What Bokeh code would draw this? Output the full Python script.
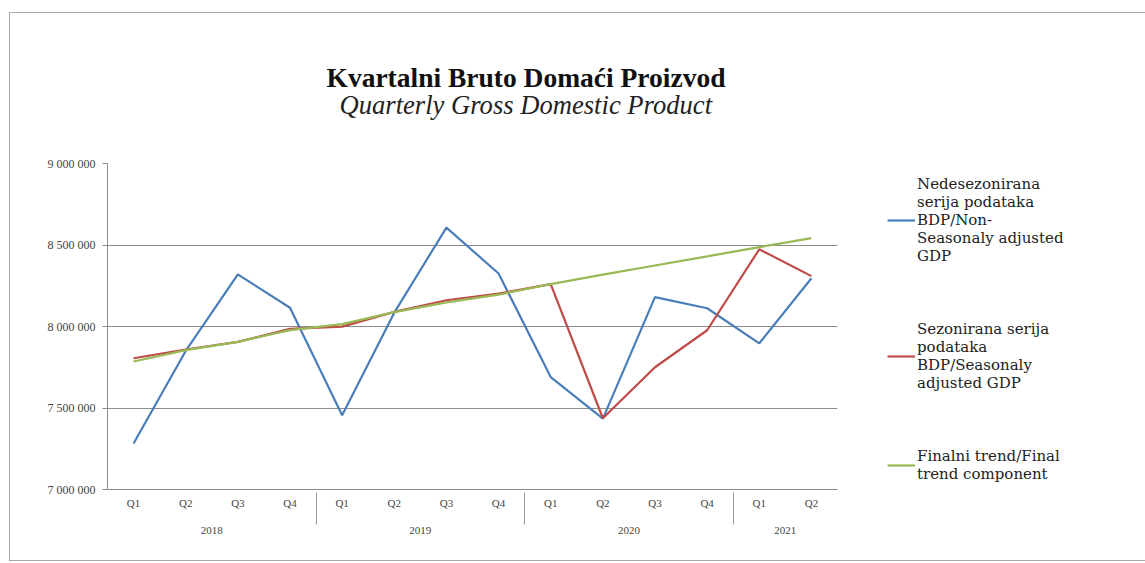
from bokeh.plotting import figure
from bokeh.models import (ColumnDataSource, FactorRange, Range1d, FixedTicker,
                          Legend, LegendItem, Title)
from bokeh.embed import file_html
from bokeh.resources import INLINE

# ---- data ----
years = ["2018", "2019", "2020", "2021"]
quarters_per_year = [["Q1", "Q2", "Q3", "Q4"], ["Q1", "Q2", "Q3", "Q4"],
                     ["Q1", "Q2", "Q3", "Q4"], ["Q1", "Q2"]]
non_seasonal = [7282000, 7850000, 8320000, 8115000, 7456000, 8085000, 8607000,
                8325000, 7690000, 7435000, 8180000, 8112000, 7897000, 8296000]
seasonal = [7805000, 7859000, 7906000, 7986000, 7999000, 8090000, 8161000,
            8202000, 8260000, 7437000, 7750000, 7977000, 8474000, 8309000]
trend = [7785000, 7855000, 7906000, 7978000, 8015000, 8088000, 8148000,
         8196000, 8260000, 8318000, 8374000, 8430000, 8487000, 8542000]
y_ticks = [7000000, 7500000, 8000000, 8500000, 9000000]
y_tick_labels = ["7 000 000", "7 500 000", "8 000 000", "8 500 000", "9 000 000"]
series_labels = [
    "Nedesezonirana\nserija podataka\nBDP/Non-\nSeasonaly adjusted\nGDP",
    "Sezonirana serija\npodataka\nBDP/Seasonaly\nadjusted GDP",
    "Finalni trend/Final\ntrend component",
]
title_text = "Kvartalni Bruto Domaći Proizvod"
subtitle_text = "Quarterly Gross Domestic Product"

# quarter labels get an empty second line so the year row sits lower
factors = [(y, q + "\n ") for y, qs in zip(years, quarters_per_year) for q in qs]
source = ColumnDataSource(dict(x=factors, a=non_seasonal, b=seasonal, c=trend))

x_range = FactorRange(*factors, range_padding=0, group_padding=0,
                      subgroup_padding=0, factor_padding=0)

p = figure(x_range=x_range, y_range=Range1d(7000000, 9000000),
           frame_width=730, frame_height=326,
           output_backend="svg", toolbar_location=None,
           min_border_left=97, min_border_right=0, min_border_top=150,
           min_border_bottom=71)
p.styles = {"margin-left": "9px", "margin-top": "12px",
            "border-left": "1px solid #a8a8a8", "border-top": "1px solid #a8a8a8",
            "border-bottom": "1px solid #a8a8a8"}
p.outline_line_color = None
p.background_fill_color = "white"
p.border_fill_color = "white"

serif = "Liberation Serif"
legend_font = "DejaVu Serif"

# titles
p.add_layout(Title(text=subtitle_text, text_font=serif, text_font_style="italic",
                   text_font_size="26.6px", text_color="#222222", align="left",
                   offset=232, standoff=88), "above")
p.add_layout(Title(text=title_text, text_font=serif, text_font_style="bold",
                   text_font_size="27.5px", text_color="#111111", align="left",
                   offset=219, standoff=-99), "above")

# y axis
p.yaxis.ticker = FixedTicker(ticks=y_ticks)
p.yaxis.major_label_overrides = {t: l for t, l in zip(y_ticks, y_tick_labels)}
p.yaxis.axis_line_color = "#8c8c8c"
p.yaxis.major_tick_line_color = "#8c8c8c"
p.yaxis.major_tick_out = 5
p.yaxis.major_tick_in = 0
p.yaxis.minor_tick_line_color = None
p.yaxis.major_label_text_font = serif
p.yaxis.major_label_text_font_size = "12px"
p.yaxis.major_label_text_color = "#444444"
p.yaxis.major_label_standoff = 7

# x axis
p.xaxis.axis_line_color = "#8c8c8c"
p.xaxis.major_tick_line_color = None
p.xaxis.minor_tick_line_color = None
p.xaxis.major_label_text_font = serif
p.xaxis.major_label_text_font_size = "11px"
p.xaxis.major_label_text_color = "#444444"
p.xaxis.group_text_font = serif
p.xaxis.group_text_font_size = "11px"
p.xaxis.group_text_color = "#444444"
p.xaxis.group_text_font_style = "normal"
p.xaxis.separator_line_color = "#9a9a9a"
p.xaxis.separator_line_width = 1
p.xaxis.major_label_standoff = 1

p.xgrid.grid_line_color = None
p.ygrid.grid_line_color = "#8c8c8c"
p.ygrid.grid_line_width = 1

r1 = p.line("x", "a", source=source, line_color="#4A7EBB", line_width=2.2)
r2 = p.line("x", "b", source=source, line_color="#BE4B48", line_width=2.2)
r3 = p.line("x", "c", source=source, line_color="#98B954", line_width=2.2)

legend = Legend(items=[LegendItem(label=series_labels[0], renderers=[r1]),
                       LegendItem(label=series_labels[1], renderers=[r2]),
                       LegendItem(label=series_labels[2], renderers=[r3])],
                location=(50, 6), padding=0, margin=0, spacing=55,
                border_line_color=None, background_fill_alpha=0,
                glyph_width=28, label_standoff=2,
                label_text_font=legend_font, label_text_font_size="15px",
                label_text_color="#222222")
p.add_layout(legend, "right")

open("out.html", "w").write(file_html(p, INLINE))
